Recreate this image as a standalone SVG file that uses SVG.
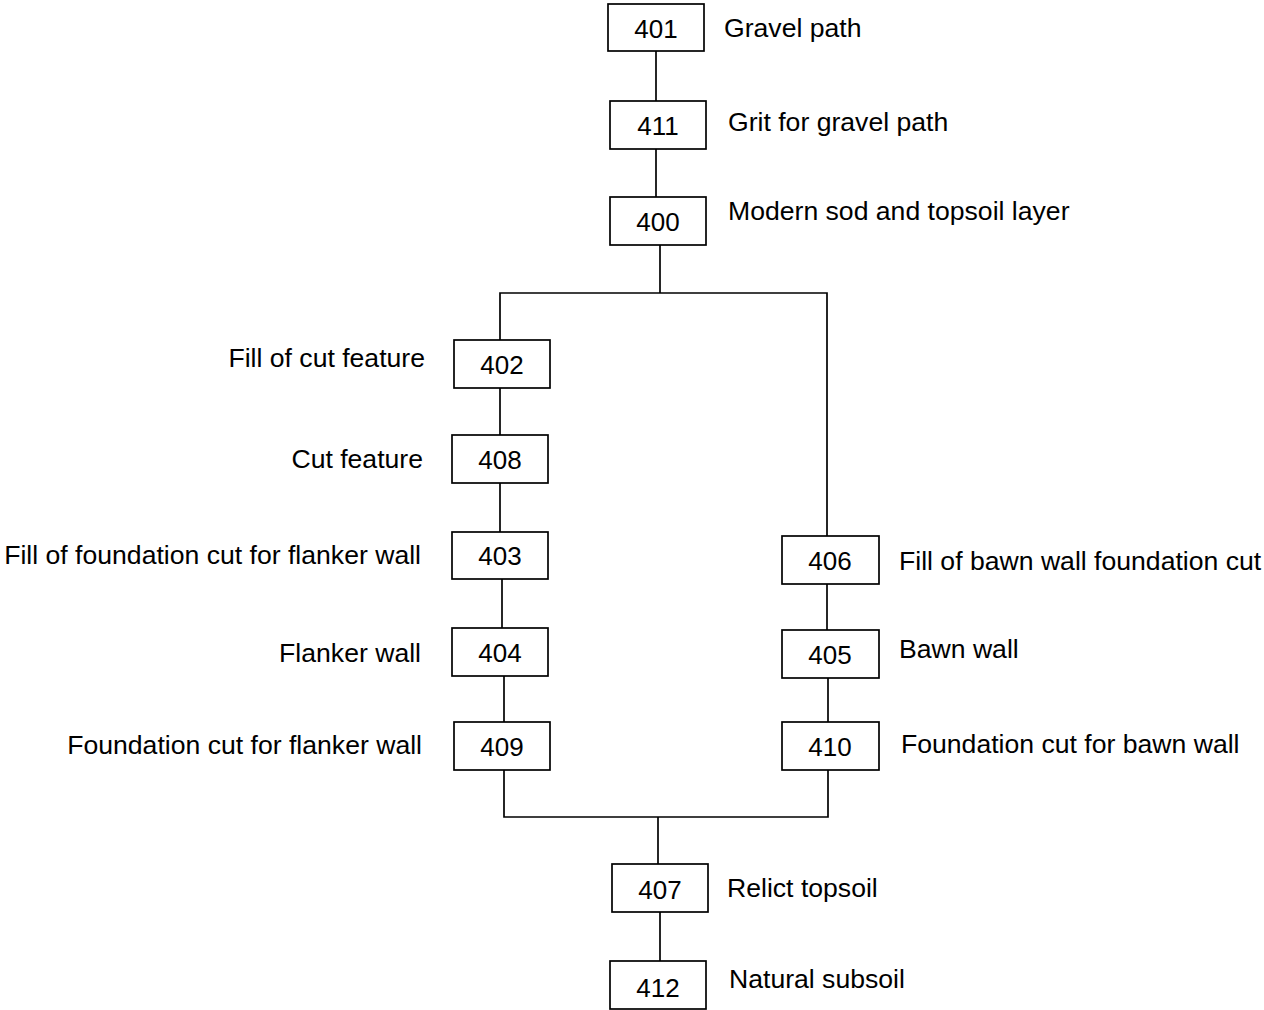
<svg xmlns="http://www.w3.org/2000/svg" width="1264" height="1010" viewBox="0 0 1264 1010">
<style>
.box{fill:#fff;stroke:#000;stroke-width:1.7}
.num{font-family:"Liberation Sans",Arial,sans-serif;font-size:26px;fill:#000;text-anchor:middle}
.lbl{font-family:"Liberation Sans",Arial,sans-serif;font-size:26.6px;fill:#000}
.end{text-anchor:end}
#connectors path{fill:none;stroke:#000;stroke-width:1.7}
</style>
<rect width="1264" height="1010" fill="#fff"/>
<g id="connectors">
<path d="M656 51V101"/>
<path d="M656 149V197"/>
<path d="M660 245V293"/>
<path d="M500 340V293H827V536"/>
<path d="M500 388V435"/>
<path d="M500 483V532"/>
<path d="M502 579V628"/>
<path d="M504 676V722"/>
<path d="M827 584V630"/>
<path d="M828 678V722"/>
<path d="M504 770V817H828V770"/>
<path d="M658 817V864"/>
<path d="M660 912V961"/>
</g>
<g id="n401"><rect class="box" x="608" y="4" width="96" height="47"/><text class="num" x="656" y="38">401</text><text class="lbl" x="724" y="37">Gravel path</text></g>
<g id="n411"><rect class="box" x="610" y="101" width="96" height="48"/><text class="num" x="658" y="135">411</text><text class="lbl" x="728" y="131">Grit for gravel path</text></g>
<g id="n400"><rect class="box" x="610" y="197" width="96" height="48"/><text class="num" x="658" y="231">400</text><text class="lbl" x="728" y="220">Modern sod and topsoil layer</text></g>
<g id="n402"><rect class="box" x="454" y="340" width="96" height="48"/><text class="num" x="502" y="374">402</text><text class="lbl end" x="425" y="367">Fill of cut feature</text></g>
<g id="n408"><rect class="box" x="452" y="435" width="96" height="48"/><text class="num" x="500" y="469">408</text><text class="lbl end" x="423" y="468">Cut feature</text></g>
<g id="n403"><rect class="box" x="452" y="532" width="96" height="47"/><text class="num" x="500" y="565">403</text><text class="lbl end" x="421" y="564">Fill of foundation cut for flanker wall</text></g>
<g id="n404"><rect class="box" x="452" y="628" width="96" height="48"/><text class="num" x="500" y="662">404</text><text class="lbl end" x="421" y="662">Flanker wall</text></g>
<g id="n409"><rect class="box" x="454" y="722" width="96" height="48"/><text class="num" x="502" y="756">409</text><text class="lbl end" x="422" y="754">Foundation cut for flanker wall</text></g>
<g id="n406"><rect class="box" x="782" y="536" width="97" height="48"/><text class="num" x="830" y="570">406</text><text class="lbl" x="899" y="570">Fill of bawn wall foundation cut</text></g>
<g id="n405"><rect class="box" x="782" y="630" width="97" height="48"/><text class="num" x="830" y="664">405</text><text class="lbl" x="899" y="658">Bawn wall</text></g>
<g id="n410"><rect class="box" x="782" y="722" width="97" height="48"/><text class="num" x="830" y="756">410</text><text class="lbl" x="901" y="753">Foundation cut for bawn wall</text></g>
<g id="n407"><rect class="box" x="612" y="864" width="96" height="48"/><text class="num" x="660" y="899">407</text><text class="lbl" x="727" y="897">Relict topsoil</text></g>
<g id="n412"><rect class="box" x="610" y="961" width="96" height="48"/><text class="num" x="658" y="997">412</text><text class="lbl" x="729" y="988">Natural subsoil</text></g>
</svg>
